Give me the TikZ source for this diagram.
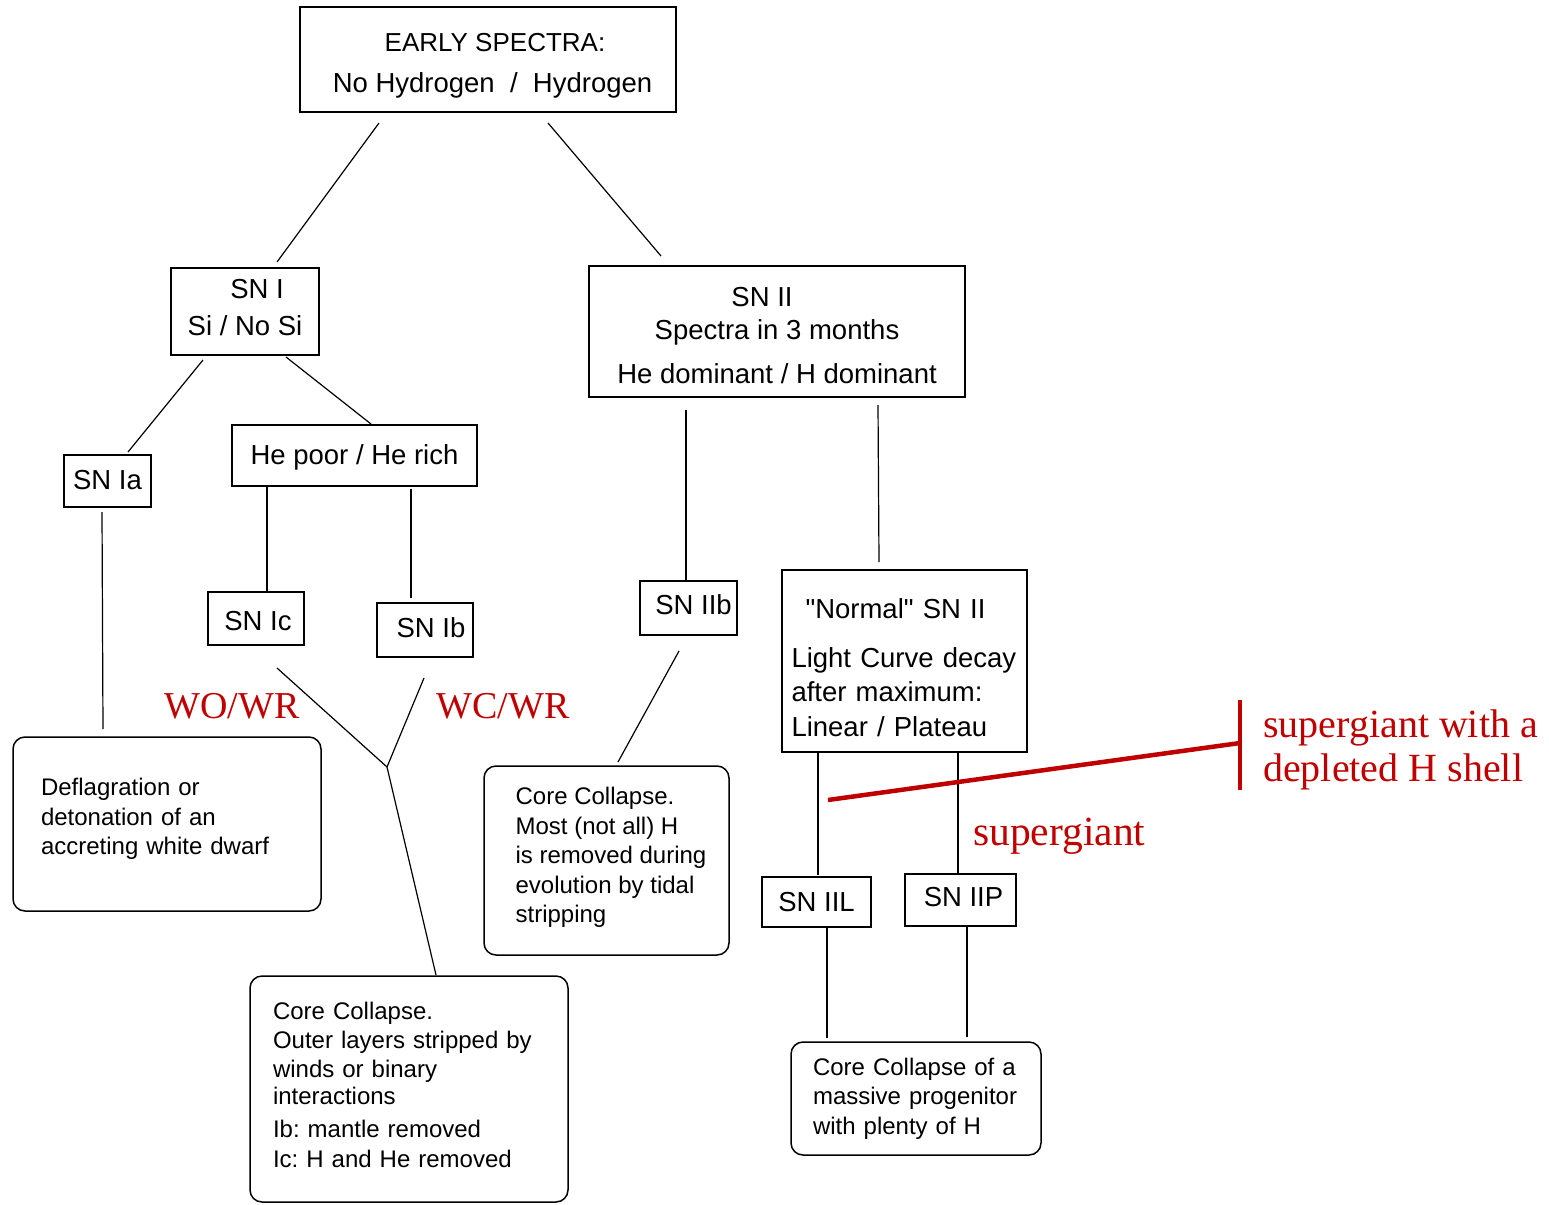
\documentclass[tikz,border=0pt]{standalone}
\usepackage{fontspec}
\setmainfont{Liberation Sans}[Ligatures=TeXOff]
\newfontfamily\sgserif{Liberation Serif}
\definecolor{sgred}{RGB}{192,0,0}
\newcommand{\tophgt}[1]{\rule{0pt}{#1pt}}
\newcommand{\botdep}[1]{\rule[-#1pt]{0pt}{0pt}}
\frenchspacing
\begin{document}
\frenchspacing
\begin{tikzpicture}[x=1pt,y=-1pt,
  box/.style={draw, line width=1.5pt, inner sep=0pt, align=center, font=\fontsize{27.5}{34}\selectfont},
  rbox/.style={draw, line width=1.5pt, rounded corners=12pt, align=left, inner ysep=0pt, font=\fontsize{24}{29.5}\selectfont},
  conn/.style={line width=1.2pt},
  sgline/.style={draw=sgred, line width=4.5pt},
  sgtext/.style={text=sgred, inner sep=0pt, font=\sgserif\fontsize{40}{46}\selectfont}]
\useasboundingbox (0,0) rectangle (1549,1204);

% boxes
\node[box, minimum width=376pt, minimum height=105pt] (es) at (488,59.5)
  {\tophgt{30.8}\hspace*{14pt}{\fontsize{26}{34}\selectfont EARLY SPECTRA:}\\[7pt]\hspace*{9pt}No Hydrogen~~/~~Hydrogen\botdep{6}};
\node[box, minimum width=148pt, minimum height=87pt] (sn1) at (245,311.5)
  {\tophgt{20.3}\hspace*{24pt}SN I\\[3pt]Si / No Si\botdep{9}};
\node[box, minimum width=376pt, minimum height=131pt] (sn2) at (777,331.5)
  {\tophgt{29.3}SN II\hspace*{30pt}\\[-1pt]Spectra in 3 months\\[10pt]He dominant / H dominant\botdep{2}};
\node[box, minimum width=87pt, minimum height=52pt] (snia) at (107.5,481) {SN Ia\botdep{2}};
\node[box, minimum width=245pt, minimum height=61pt] (hep) at (354.5,455.5) {\tophgt{23.7}He poor / He rich};
\node[box, minimum width=96pt, minimum height=53pt] (snic) at (256,618.5) {\tophgt{23.7}\hspace*{4pt}SN Ic};
\node[box, minimum width=96pt, minimum height=54pt] (snib) at (425,630) {\hspace*{12pt}SN Ib\botdep{4}};
\node[box, minimum width=97pt, minimum height=54pt] (sniib) at (688.5,608) {\hspace*{10pt}SN IIb\botdep{6}};
\node[box, minimum width=245pt, minimum height=182pt, align=left, text width=226pt, inner xsep=9.5pt] (norm) at (904.5,661)
  {\tophgt{35.3}\hspace*{14pt}"Normal" SN II\\[15pt]Light Curve decay\\after maximum:\\[1pt]Linear / Plateau\botdep{2}};
\node[box, minimum width=109pt, minimum height=50pt] (sniil) at (816.5,902) {SN IIL};
\node[box, minimum width=111pt, minimum height=52pt] (sniip) at (960.5,900) {\hspace*{6pt}SN IIP\botdep{6}};

\node[rbox, minimum width=308pt, minimum height=174pt, text width=252pt, inner xsep=28pt] (cc1) at (167,824)
  {\tophgt{17.5}Deflagration or\\detonation of an\\accreting white dwarf\botdep{15.3}};
\node[rbox, minimum width=318pt, minimum height=226pt, text width=272pt, inner xsep=23pt] (cc2) at (409,1089)
  {\tophgt{18}Core Collapse.\\Outer layers stripped by\\[-0.5pt]winds or binary\\[-2.5pt]interactions\\[3.5pt]Ib: mantle removed\\Ic: H and He removed\botdep{9.1}};
\node[rbox, minimum width=245pt, minimum height=189pt, inner xsep=0pt] (cc3) at (606.5,860.5)
  {\tophgt{18}\hspace*{9pt}Core Collapse.\\\hspace*{9pt}Most (not all) H\\\hspace*{9pt}is removed during\\\hspace*{9pt}evolution by tidal\\\hspace*{9pt}stripping\botdep{11.8}};
\node[rbox, minimum width=250pt, minimum height=113pt, text width=206pt, inner xsep=22pt] (cc4) at (916,1098.5)
  {Core Collapse of a\\massive progenitor\\with plenty of H};

% connector end points
\coordinate (esL) at (379,123);  \coordinate (sn1T) at (277,262);
\coordinate (esR) at (548,123);  \coordinate (sn2T) at (661,256);
\coordinate (sn1L) at (203,360); \coordinate (sniaT) at (128,452);
\coordinate (sn1R) at (286,357); \coordinate (hepT) at (371,424);
\coordinate (sniaB) at (102,512); \coordinate (cc1T) at (103,729);
\coordinate (hepL) at (267,487); \coordinate (snicT) at (267,592);
\coordinate (hepR) at (411,489); \coordinate (snibT) at (411,598);
\coordinate (snicB) at (277,668); \coordinate (snibB) at (424,678);
\coordinate (fork) at (387,767); \coordinate (cc2T) at (436,975);
\coordinate (sn2L) at (686,410); \coordinate (sniibT) at (686,581);
\coordinate (sniibB) at (679,651); \coordinate (cc3T) at (618,762);
\coordinate (sn2R) at (878,405); \coordinate (normT) at (879,562);
\coordinate (normL) at (818,752); \coordinate (sniilT) at (818,875);
\coordinate (normR) at (958,752); \coordinate (sniipT) at (958,873);
\coordinate (sniilB) at (827,927); \coordinate (cc4L) at (827,1038);
\coordinate (sniipB) at (967,926); \coordinate (cc4R) at (967,1037);

\draw[conn] (esL) -- (sn1T);
\draw[conn] (esR) -- (sn2T);
\draw[conn] (sn1L) -- (sniaT);
\draw[conn] (sn1R) -- (hepT);
\draw[conn] (sniaB) -- (cc1T);
\draw[conn] (hepL) -- (snicT);
\draw[conn] (hepR) -- (snibT);
\draw[conn] (snicB) -- (fork);
\draw[conn] (snibB) -- (fork);
\draw[conn] (fork) -- (cc2T);
\draw[conn] (sn2L) -- (sniibT);
\draw[conn] (sniibB) -- (cc3T);
\draw[conn] (sn2R) -- (normT);
\draw[conn] (normL) -- (sniilT);
\draw[conn] (normR) -- (sniipT);
\draw[conn] (sniilB) -- (cc4L);
\draw[conn] (sniipB) -- (cc4R);

% red annotations
\coordinate (redA) at (828,800);
\coordinate (redB) at (1240,743);
\coordinate (barT) at (1240,700);
\coordinate (barB) at (1240,790);
\draw[sgline] (redA) -- (redB);
\draw[sgline] (barT) -- (barB);
\node[sgtext, anchor=base] (wo) at (232,718) {\fontsize{38}{44}\selectfont WO/WR};
\node[sgtext, anchor=base] (wc) at (503,718) {\fontsize{38}{44}\selectfont WC/WR};
\node[sgtext, anchor=base west] (sg1) at (1263,737) {supergiant with a};
\node[sgtext, anchor=base west] (sg2) at (1263,781) {depleted H shell};
\node[sgtext, anchor=base west] (sg3) at (973,845) {\fontsize{41.5}{46}\selectfont supergiant};
\end{tikzpicture}
\end{document}
